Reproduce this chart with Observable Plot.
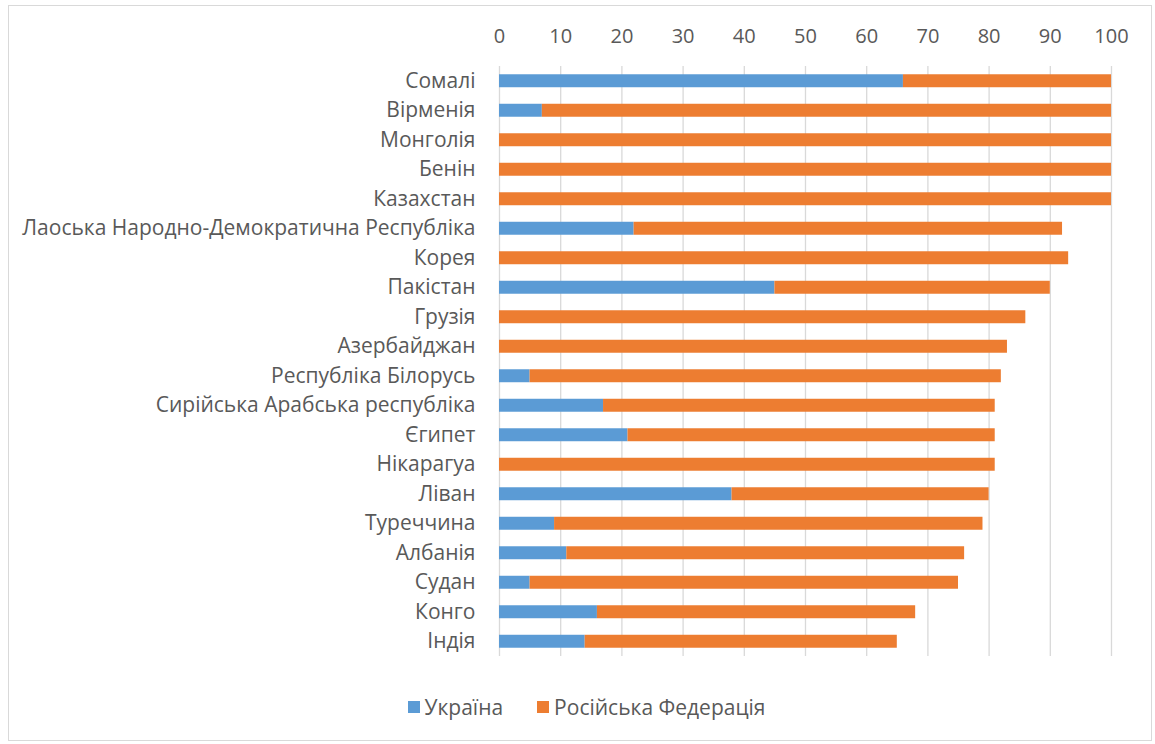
<!DOCTYPE html>
<html>
<head>
<meta charset="utf-8">
<script src="https://cdn.jsdelivr.net/npm/d3@7"></script>
<script src="https://cdn.jsdelivr.net/npm/@observablehq/plot@0.6"></script>
<style>
  html, body { margin: 0; padding: 0; background: #fff; }
  #wrap { position: relative; width: 1155px; height: 744px; overflow: hidden; font-family: "Open Sans", "Liberation Sans", sans-serif; }
  #frame { position: absolute; left: 8px; top: 5px; width: 1144px; height: 736px; border: 1px solid #d9d9d9; box-sizing: border-box; pointer-events: none; }
  #chart { position: absolute; left: 0; top: 0; }
  #legend { position: absolute; top: 693px; left: 0; width: 1155px; display: flex; justify-content: center; gap: 34px; font-size: 21px; color: #595959; padding-left: 18px; box-sizing: border-box; }
  .item { display: flex; align-items: center; gap: 5px; }
  .sw { width: 12px; height: 12px; display: inline-block; }
</style>
</head>
<body>
<div id="wrap">
  <div id="chart"></div>
  <div id="legend"></div>
  <div id="frame"></div>
</div>
<script>
const countries = ["Сомалі", "Вірменія", "Монголія", "Бенін", "Казахстан",
  "Лаоська Народно-Демократична Республіка", "Корея", "Пакістан", "Грузія", "Азербайджан",
  "Республіка Білорусь", "Сирійська Арабська республіка", "Єгипет", "Нікарагуа", "Ліван",
  "Туреччина", "Албанія", "Судан", "Конго", "Індія"];
const ukraine = [66, 7, 0, 0, 0, 22, 0, 45, 0, 0, 5, 17, 21, 0, 38, 9, 11, 5, 16, 14];
const russia  = [34, 93, 100, 100, 100, 70, 93, 45, 86, 83, 77, 64, 60, 81, 42, 70, 65, 70, 52, 51];
const seriesNames = ["Україна", "Російська Федерація"];
const seriesColors = ["#5B9BD5", "#ED7D31"];
const xTicks = [0, 10, 20, 30, 40, 50, 60, 70, 80, 90, 100];

const data = [];
countries.forEach((c, i) => {
  data.push({country: c, series: seriesNames[0], value: ukraine[i]});
  data.push({country: c, series: seriesNames[1], value: russia[i]});
});

const chart = Plot.plot({
  width: 1155,
  height: 672,
  marginLeft: 499,
  marginRight: 44,
  marginTop: 66,
  marginBottom: 16,
  style: {fontFamily: "'Open Sans', 'Liberation Sans', sans-serif", fontSize: "21px", color: "#595959", background: "transparent"},
  x: {domain: [0, 100], axis: null},
  y: {domain: countries, paddingInner: 0.56, paddingOuter: 0.28, round: false, axis: null},
  color: {domain: seriesNames, range: seriesColors},
  marks: [
    Plot.ruleX(xTicks, {stroke: "#d9d9d9", strokeWidth: 1.3}),
    Plot.barX(data, Plot.stackX({x: "value", y: "country", fill: "series", order: seriesNames})),
    Plot.axisX({anchor: "top", ticks: xTicks, tickSize: 0, tickPadding: 24, fontSize: 20, fill: "#595959", label: null, tickFormat: d => String(d)}),
    Plot.axisY({anchor: "left", tickSize: 0, tickPadding: 24, fontSize: 21, fill: "#595959", label: null})
  ]
});
document.getElementById("chart").appendChild(chart);

const legend = document.getElementById("legend");
seriesNames.forEach((n, i) => {
  const it = document.createElement("div");
  it.className = "item";
  it.innerHTML = `<span class="sw" style="background:${seriesColors[i]}"></span><span>${n}</span>`;
  legend.appendChild(it);
});
</script>
</body>
</html>
